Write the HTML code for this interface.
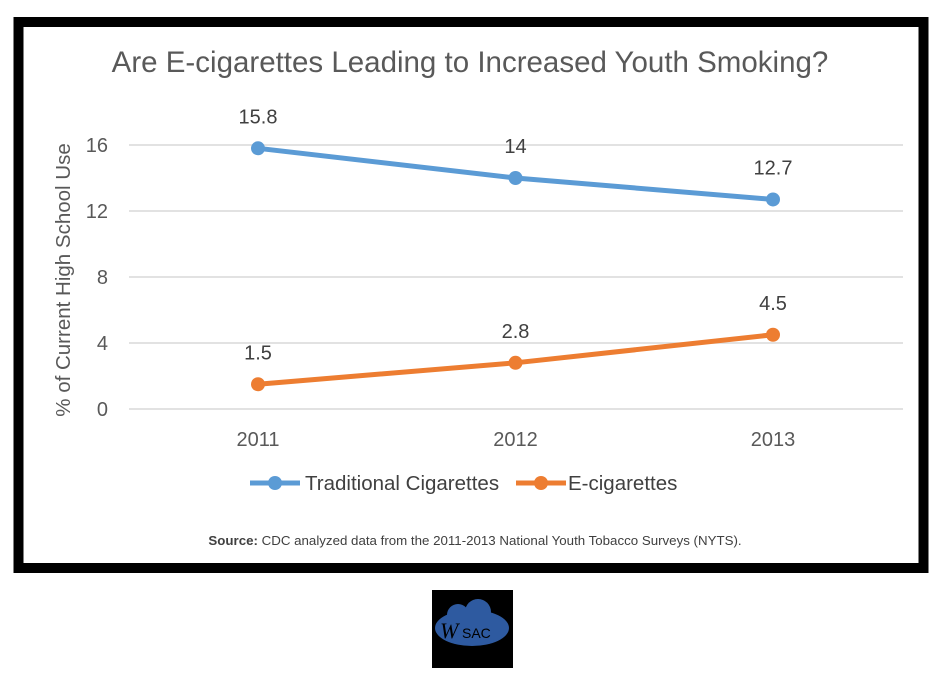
<!DOCTYPE html>
<html><head><meta charset="utf-8"><style>
body{margin:0;background:#fff;font-family:"Liberation Sans",sans-serif}
</style></head><body>
<svg width="947" height="686" viewBox="0 0 947 686">
<rect x="18.5" y="22" width="905" height="546" fill="#fff" stroke="#000" stroke-width="10"/>
<text x="470" y="72" text-anchor="middle" font-size="29.5" fill="#595959">Are E-cigarettes Leading to Increased Youth Smoking?</text>
<g id="grid"></g><g id="series"></g>
<text transform="translate(70,280) rotate(-90)" text-anchor="middle" font-size="20.5" fill="#595959">% of Current High School Use</text>
<g>
<line x1="250" y1="483" x2="300" y2="483" stroke="#5b9bd5" stroke-width="5"/><circle cx="275" cy="483" r="7" fill="#5b9bd5"/>
<text x="305" y="490" font-size="20.5" fill="#404040">Traditional Cigarettes</text>
<line x1="516" y1="483" x2="566" y2="483" stroke="#ed7d31" stroke-width="5"/><circle cx="541" cy="483" r="7" fill="#ed7d31"/>
<text x="568" y="490" font-size="20.5" fill="#404040">E-cigarettes</text>
</g>
<text x="475" y="545" text-anchor="middle" font-size="13.3" fill="#404040"><tspan font-weight="bold">Source:</tspan> CDC analyzed data from the 2011-2013 National Youth Tobacco Surveys (NYTS).</text>
<g>
<rect x="432" y="590" width="81" height="78" fill="#000"/>
<ellipse cx="472" cy="628" rx="37" ry="18" fill="#2e5aa0"/>
<circle cx="458" cy="615" r="11" fill="#2e5aa0"/><circle cx="478" cy="612" r="13" fill="#2e5aa0"/>
<text x="440" y="638" font-size="22" font-style="italic" font-family="Liberation Serif,serif" fill="#000">W</text>
<text x="462" y="638" font-size="14" fill="#000">SAC</text>
</g>
</svg>
<script>
const years=["2011","2012","2013"];
const traditional=[15.8,14,12.7];
const ecig=[1.5,2.8,4.5];
const yTicks=[0,4,8,12,16];
const NS="http://www.w3.org/2000/svg";
const xs=i=>258+i*257.5, ys=v=>409-v*16.5;
function mk(t,a,p){const e=document.createElementNS(NS,t);for(const k in a)e.setAttribute(k,a[k]);p.appendChild(e);return e;}
const g=document.getElementById('grid'),s=document.getElementById('series');
yTicks.forEach(v=>{
 const l=mk('line',{x1:129,x2:903,y1:ys(v),y2:ys(v),stroke:'#d9d9d9','stroke-width':1.5},g);
 
 
 const t=mk('text',{x:108,y:ys(v)+7,'text-anchor':'end','font-size':20,fill:'#595959'},g);t.textContent=v;
 
 
});
years.forEach((y,i)=>{const t=mk('text',{x:xs(i),y:446,'text-anchor':'middle','font-size':20,fill:'#595959'},g);t.textContent=y;
 
 });
[[traditional,'#5b9bd5','traditional'],[ecig,'#ed7d31','ecig']].forEach(([d,c,n])=>{
 const p=mk('polyline',{points:d.map((v,i)=>xs(i)+','+ys(v)).join(' '),fill:'none',stroke:c,'stroke-width':5,'stroke-linecap':'round'},s);
 
 
 d.forEach((v,i)=>{
  const m=mk('circle',{cx:xs(i),cy:ys(v),r:7,fill:c},s);
  
  
  const t=mk('text',{x:xs(i),y:ys(v)-25,'text-anchor':'middle','font-size':20,fill:'#404040'},s);t.textContent=v;
  
  
 });
});
</script>
</body></html>
